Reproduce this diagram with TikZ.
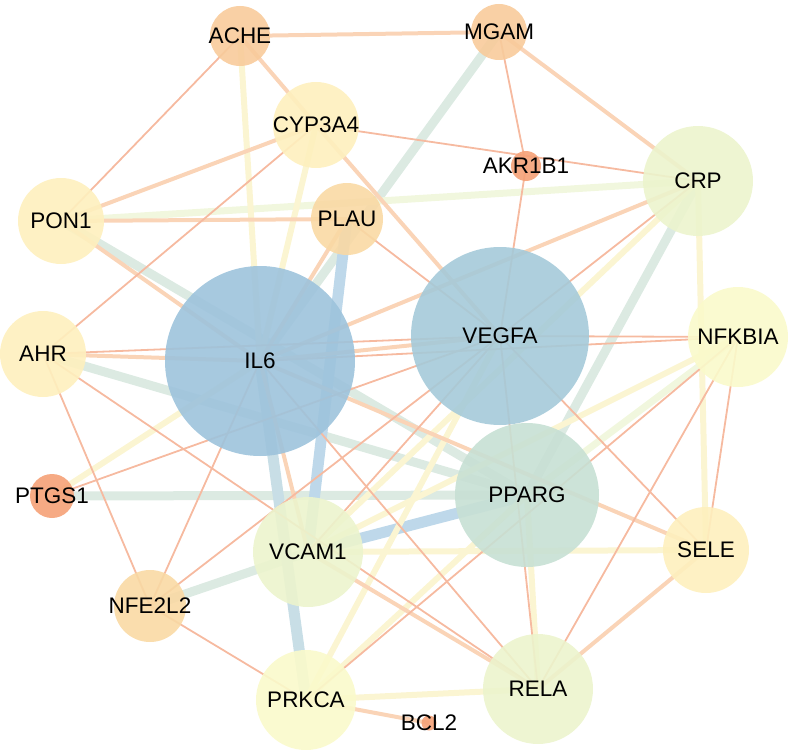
\documentclass[tikz,border=0pt]{standalone}
\usepackage{fontspec}
\setmainfont{Liberation Sans}
\pgfdeclarelayer{edges}
\pgfsetlayers{edges,main}
\definecolor{cIL}{RGB}{157,195,220}
\definecolor{cVE}{RGB}{165,202,217}
\definecolor{cPP}{RGB}{199,224,212}
\definecolor{cGr}{RGB}{236,244,205}
\definecolor{cYe}{RGB}{250,250,203}
\definecolor{cCr}{RGB}{254,240,190}
\definecolor{cPl}{RGB}{249,217,164}
\definecolor{cOr}{RGB}{248,203,155}
\definecolor{cSa}{RGB}{245,161,119}
\definecolor{eThin}{RGB}{246,186,160}
\definecolor{ePeach}{RGB}{250,212,183}
\definecolor{eYel}{RGB}{251,245,210}
\definecolor{eYG}{RGB}{241,247,222}
\definecolor{eGreen}{RGB}{220,234,226}
\definecolor{eBG}{RGB}{200,222,230}
\definecolor{eBlue}{RGB}{190,216,234}
\newcommand\edg[3]{\draw[#1] (#2.center) -- (#3.center);}
\begin{document}
\begin{tikzpicture}[x=1pt,y=-1pt,
  gn/.style={circle,inner sep=0pt,draw=none,fill opacity=0.9},
  lab/.style={inner sep=0pt,text=black,font=\fontsize{22.5}{26}\selectfont},
  et/.style={eThin,line width=1.8pt},
  ep/.style={ePeach,line width=4pt},
  ey/.style={eYel,line width=6pt},
  eyg/.style={eYG,line width=7pt},
  eg/.style={eGreen,line width=9pt},
  ebg/.style={eBG,line width=11pt},
  eb/.style={eBlue,line width=11pt}]
\useasboundingbox (0,0) rectangle (789,749);
% nodes
\node[gn,fill=cOr,minimum size=60pt,label={[lab]center:ACHE}] (ACHE) at (240,36) {};
\node[gn,fill=cOr,minimum size=56pt,label={[lab]center:MGAM}] (MGAM) at (499,32) {};
\node[gn,fill=cCr,minimum size=86pt,label={[lab]center:CYP3A4}] (CYP3A4) at (316,125) {};
\node[gn,fill=cSa,minimum size=30pt,label={[lab]center:AKR1B1}] (AKR1B1) at (526,166) {};
\node[gn,fill=cGr,minimum size=110pt,label={[lab]center:CRP}] (CRP) at (698,181) {};
\node[gn,fill=cCr,minimum size=86pt,label={[lab]center:PON1}] (PON1) at (61,221) {};
\node[gn,fill=cPl,minimum size=72pt,label={[lab]center:PLAU}] (PLAU) at (347,219) {};
\node[gn,fill=cIL,minimum size=190pt,label={[lab]center:IL6}] (IL6) at (260,361) {};
\node[gn,fill=cVE,minimum size=178pt,label={[lab]center:VEGFA}] (VEGFA) at (500,336) {};
\node[gn,fill=cYe,minimum size=100pt,label={[lab]center:NFKBIA}] (NFKBIA) at (738,337) {};
\node[gn,fill=cCr,minimum size=86pt,label={[lab]center:AHR}] (AHR) at (43,354) {};
\node[gn,fill=cSa,minimum size=44pt,label={[lab]center:PTGS1}] (PTGS1) at (52,496) {};
\node[gn,fill=cPP,minimum size=144pt,label={[lab]center:PPARG}] (PPARG) at (527,495) {};
\node[gn,fill=cCr,minimum size=86pt,label={[lab]center:SELE}] (SELE) at (706,550) {};
\node[gn,fill=cGr,minimum size=110pt,label={[lab]center:VCAM1}] (VCAM1) at (308,552) {};
\node[gn,fill=cPl,minimum size=72pt,label={[lab]center:NFE2L2}] (NFE2L2) at (150,606) {};
\node[gn,fill=cYe,minimum size=100pt,label={[lab]center:PRKCA}] (PRKCA) at (306,700) {};
\node[gn,fill=cGr,minimum size=110pt,label={[lab]center:RELA}] (RELA) at (538,689) {};
\node[gn,fill=cSa,minimum size=15pt,label={[lab]center:BCL2}] (BCL2) at (429,723) {};
% edges
\begin{pgfonlayer}{edges}
\edg{eg}{MGAM}{IL6}
\edg{eg}{PON1}{PPARG}
\edg{eg}{AHR}{PPARG}
\edg{eg}{PTGS1}{PPARG}
\edg{eg}{CRP}{PPARG}
\edg{eg}{NFE2L2}{VCAM1}
\edg{ebg}{IL6}{PRKCA}
\edg{eb}{PLAU}{VCAM1}
\edg{eb}{VCAM1}{PPARG}
\edg{eyg}{PON1}{CRP}
\edg{eyg}{NFKBIA}{PPARG}
\edg{ey}{ACHE}{IL6}
\edg{ey}{CYP3A4}{IL6}
\edg{ey}{CRP}{SELE}
\edg{ey}{PTGS1}{IL6}
\edg{ey}{VCAM1}{SELE}
\edg{ey}{NFKBIA}{VCAM1}
\edg{ey}{PRKCA}{RELA}
\edg{ey}{PRKCA}{VEGFA}
\edg{ey}{PRKCA}{PPARG}
\edg{ey}{PPARG}{RELA}
\edg{ey}{CRP}{VCAM1}
\edg{ep}{ACHE}{MGAM}
\edg{ep}{ACHE}{CYP3A4}
\edg{ep}{MGAM}{CRP}
\edg{ep}{CYP3A4}{PON1}
\edg{ep}{CYP3A4}{VEGFA}
\edg{ep}{PON1}{PLAU}
\edg{ep}{PON1}{IL6}
\edg{ep}{CRP}{IL6}
\edg{ep}{AHR}{IL6}
\edg{ep}{IL6}{VEGFA}
\edg{ep}{IL6}{SELE}
\edg{ep}{IL6}{VCAM1}
\edg{ep}{VCAM1}{RELA}
\edg{ep}{SELE}{RELA}
\edg{ep}{PRKCA}{BCL2}
\edg{ep}{PLAU}{IL6}
\edg{et}{ACHE}{PON1}
\edg{et}{MGAM}{AKR1B1}
\edg{et}{AKR1B1}{VEGFA}
\edg{et}{CYP3A4}{CRP}
\edg{et}{CYP3A4}{AHR}
\edg{et}{CRP}{VEGFA}
\edg{et}{PLAU}{VEGFA}
\edg{et}{AHR}{VEGFA}
\edg{et}{AHR}{NFE2L2}
\edg{et}{AHR}{RELA}
\edg{et}{IL6}{NFKBIA}
\edg{et}{VEGFA}{NFKBIA}
\edg{et}{VEGFA}{SELE}
\edg{et}{NFKBIA}{SELE}
\edg{et}{NFKBIA}{RELA}
\edg{et}{NFKBIA}{PRKCA}
\edg{et}{IL6}{RELA}
\edg{et}{VEGFA}{RELA}
\edg{et}{PTGS1}{VEGFA}
\edg{et}{NFE2L2}{IL6}
\edg{et}{NFE2L2}{VEGFA}
\edg{et}{VEGFA}{VCAM1}
\edg{et}{NFE2L2}{PRKCA}
\end{pgfonlayer}
\end{tikzpicture}
\end{document}
